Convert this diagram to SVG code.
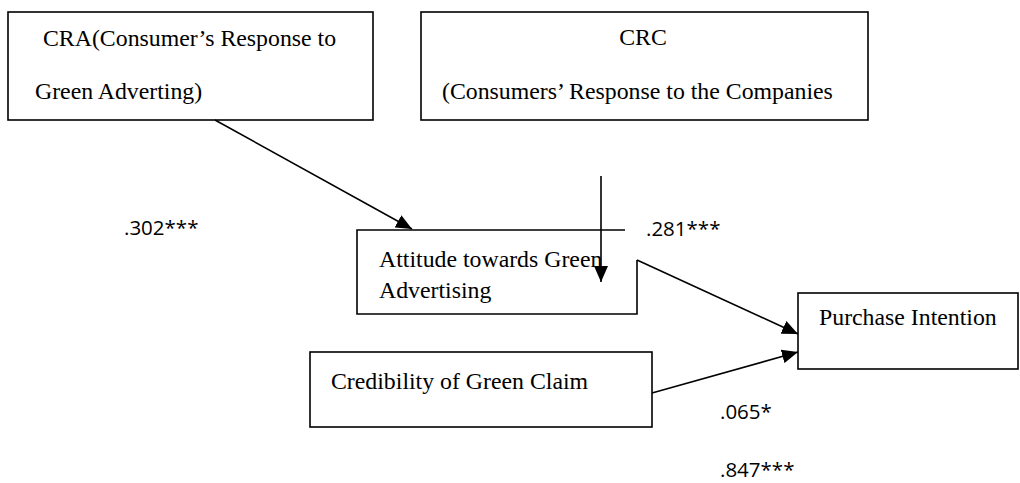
<svg xmlns="http://www.w3.org/2000/svg" width="1020" height="483" viewBox="0 0 1020 483">
<style>
.box{fill:none;stroke:#000;stroke-width:1.6}
.lbl{font-family:"Liberation Serif","Times New Roman",serif;font-size:23.8px;fill:#000}
.num{font-family:"Open Sans","Liberation Sans",sans-serif;font-size:20.5px;fill:#000}
.con{fill:none;stroke:#000;stroke-width:1.6}
</style>
<defs>
<marker id="ah" markerUnits="userSpaceOnUse" markerWidth="16" markerHeight="14" refX="16" refY="7" orient="auto">
<path d="M0,0 L16,7 L0,14 Z" fill="#000"/>
</marker>
</defs>
<rect width="1020" height="483" fill="#fff"/>
<g id="cra">
<rect class="box" x="8" y="12" width="365" height="108"/>
<text class="lbl" x="43" y="46">CRA(Consumer’s Response to</text>
<text class="lbl" x="35" y="99">Green Adverting)</text>
</g>
<g id="crc">
<rect class="box" x="421" y="12" width="447" height="108"/>
<text class="lbl" x="643" y="45" text-anchor="middle">CRC</text>
<text class="lbl" x="442" y="99">(Consumers’ Response to the Companies</text>
</g>
<g id="attitude">
<path class="box" d="M625,230 H357 V314 H637 V260"/>
<text class="lbl" x="379" y="267">Attitude towards Green</text>
<text class="lbl" x="379" y="298">Advertising</text>
</g>
<g id="purchase">
<rect class="box" x="798" y="293" width="220" height="76"/>
<text class="lbl" x="819" y="325">Purchase Intention</text>
</g>
<g id="credibility">
<rect class="box" x="310" y="352" width="342" height="75"/>
<text class="lbl" x="331" y="389">Credibility of Green Claim</text>
</g>
<g id="connectors">
<line class="con" x1="215" y1="120" x2="412" y2="229" marker-end="url(#ah)"/>
<line class="con" x1="601" y1="176" x2="601" y2="282" marker-end="url(#ah)"/>
<line class="con" x1="637" y1="260" x2="798" y2="334" marker-end="url(#ah)"/>
<line class="con" x1="652" y1="393" x2="798" y2="352" marker-end="url(#ah)"/>
</g>
<g id="labels">
<text class="num" x="124" y="235">.302***</text>
<text class="num" x="646" y="236">.281***</text>
<text class="num" x="720" y="419">.065*</text>
<text class="num" x="720" y="477">.847***</text>
</g>
</svg>
